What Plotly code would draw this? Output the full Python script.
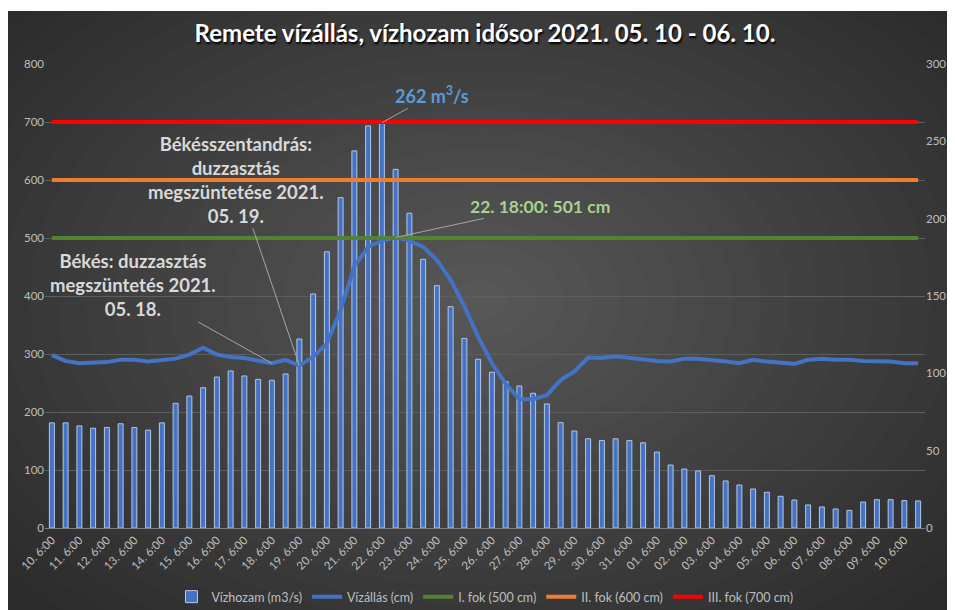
import plotly.graph_objects as go

# ---------------- data ----------------
days = ["10", "11", "12", "13", "14", "15", "16", "17", "18", "19", "20", "21", "22",
        "23", "24", "25", "26", "27", "28", "29", "30", "31",
        "01", "02", "03", "04", "05", "06", "07", "08", "09", "10"]
hours = ["6:00", "18:00"]

# Vízhozam (m3/s) – twice a day, right axis
flow = [68, 68, 66, 64.5, 65, 67.4, 65, 63.3, 68, 80.6,
        85.3, 90.7, 97.6, 101.5, 98.3, 96.1, 95.5, 99.6, 122.2, 151.3,
        178.6, 213.6, 243.8, 260, 262, 231.9, 203.5, 173.7, 156.7, 143.1,
        122.6, 109.1, 100.7, 94.6, 91.8, 87.1, 80.2, 68.1, 62.7, 57.7,
        56.5, 57.7, 56.5, 55.1, 49.1, 40.7, 38.1, 36.9, 33.8, 30.4,
        27.8, 25.2, 23.1, 20.5, 18.1, 14.9, 13.6, 12.3, 11.4, 16.8,
        18.3, 18.3, 17.7, 17.5]

# Vízállás (cm) – left axis
level = [298, 288, 284, 285, 286, 290, 290, 287, 289, 292,
         299, 311, 299, 295, 293, 289, 284, 290, 280, 295,
         318, 376, 451, 485, 495, 501, 495, 485, 462, 428,
         382, 330, 284, 249, 222, 222, 229, 255, 270, 294,
         293, 296, 293, 291, 288, 287, 292, 292, 290, 287,
         284, 290, 287, 285, 283, 290, 292, 290, 290, 288,
         288, 287, 284, 284]

fok1 = 500
fok2 = 600
fok3 = 700

categories = [f"{d}. {h}" for d in days for h in hours]
n = len(categories)
x = list(range(n))
tickvals = x[::2]
ticktext = categories[::2]

# ---------------- figure ----------------
OFF = 8  # page body margin
W, H = 955 - OFF, 610 - OFF
ML, MT = 45 - OFF, 64 - OFF
PR, PB = 925.5 - OFF, 528 - OFF
MR, MB = W - PR, H - PB
PW, PH = PR - ML, PB - MT

def pxx(p):  # page px -> paper x
    return (p - OFF - ML) / PW

def pxy(p):  # page px -> paper y
    return (PB - (p - OFF)) / PH

FONT = "Lato"
TXT = "#bfbfbf"

fig = go.Figure()

fig.add_trace(go.Bar(
    x=x, y=flow, name="Vízhozam (m3/s)", yaxis="y",
    width=0.36,
    marker=dict(color="#4472C4", line=dict(color="#B4C7E7", width=1)),
))
fig.add_trace(go.Scatter(
    x=x, y=level, name="Vízállás (cm)", yaxis="y2", mode="lines",
    line=dict(color="#4472C4", width=4),
))
fig.add_trace(go.Scatter(
    x=x, y=[fok1] * n, name="I. fok (500 cm)", yaxis="y2", mode="lines",
    line=dict(color="#548235", width=4),
))
fig.add_trace(go.Scatter(
    x=x, y=[fok2] * n, name="II. fok (600 cm)", yaxis="y2", mode="lines",
    line=dict(color="#ED7D31", width=4),
))
fig.add_trace(go.Scatter(
    x=x, y=[fok3] * n, name="III. fok (700 cm)", yaxis="y2", mode="lines",
    line=dict(color="#FF0000", width=4),
))

# background (dark radial gradient)
shapes = [dict(type="rect", xref="paper", yref="paper", layer="below",
               x0=pxx(OFF - 2), x1=pxx(960), y0=pxy(11), y1=pxy(615),
               fillcolor="#2b2b2b", line=dict(width=0))]
cx, cy = 480, 300
steps = 22
for k in range(steps):
    f = 1 - k / steps
    rx, ry = 620 * f, 420 * f
    shapes.append(dict(type="circle", xref="paper", yref="paper", layer="below",
                       x0=pxx(cx - rx), x1=pxx(cx + rx),
                       y0=pxy(cy + ry), y1=pxy(cy - ry),
                       fillcolor="rgba(255,255,255,0.0125)", line=dict(width=0)))

ann_font = dict(family=FONT, size=18.5, color="#d9d9d9", weight="bold")
annotations = [
    dict(x=24, y=flow[24], xref="x", yref="y",
         text="262 m<sup>3</sup>/s", showarrow=True, arrowhead=0,
         arrowcolor="#a6a6a6", arrowwidth=1, axref="pixel", ayref="pixel",
         ax=50, ay=-28, font=dict(family=FONT, size=18, color="#5B9BD5", weight="bold")),
    dict(x=25, y=level[25], xref="x", yref="y2",
         text="22. 18:00: 501 cm", showarrow=True, arrowhead=0,
         arrowcolor="#a6a6a6", arrowwidth=1,
         ax=144, ay=-31, font=dict(family=FONT, size=17.5, color="#A9D18E", weight="bold")),
    dict(x=18, y=level[18], xref="x", yref="y2",
         text="Békésszentandrás:<br>duzzasztás<br>megszüntetése 2021.<br>05. 19.",
         showarrow=True, arrowhead=0, arrowcolor="#a6a6a6", arrowwidth=1,
         ax=-63, ay=-186, font=ann_font),
    dict(x=16, y=level[16], xref="x", yref="y2",
         text="Békés: duzzasztás<br>megszüntetés 2021.<br>05. 18.",
         showarrow=True, arrowhead=0, arrowcolor="#a6a6a6", arrowwidth=1,
         ax=-139, ay=-78, font=ann_font),
]

fig.update_layout(
    width=W, height=H, autosize=False,
    margin=dict(l=ML, r=MR, t=MT, b=MB, pad=0, autoexpand=False),
    paper_bgcolor="white", plot_bgcolor="rgba(0,0,0,0)",
    font=dict(family=FONT, size=11, color=TXT),
    title=dict(text="Remete vízállás, vízhozam idősor 2021. 05. 10 - 06. 10.",
               x=(485 - OFF) / W, xanchor="center", y=1 - (34 - OFF) / H, yanchor="middle",
               font=dict(family=FONT, size=24, color="white", weight="bold",
                         shadow="1px 2px 2px #000000")),
    xaxis=dict(range=[-0.5, n - 0.5], tickmode="array", tickvals=tickvals,
               ticktext=ticktext, tickangle=-45, showgrid=False, zeroline=False,
               showline=True, linecolor="#7f7f7f", linewidth=1, ticks="",
               automargin=False, tickfont=dict(size=11.5, color=TXT)),
    yaxis=dict(side="right", range=[0, 300], tickvals=[0, 50, 100, 150, 200, 250, 300],
               showgrid=False, zeroline=False, showline=False, ticks="",
               automargin=False, tickfont=dict(size=11.5, color=TXT)),
    yaxis2=dict(overlaying="y", side="left", range=[0, 800], dtick=100,
                showgrid=True, gridcolor="#5e5e5e", gridwidth=1, zeroline=False,
                showline=False, ticks="", automargin=False,
                tickfont=dict(size=11.5, color=TXT)),
    legend=dict(orientation="h", x=0.5, xanchor="center",
                yref="container", y=1 - (597 - OFF) / H, yanchor="middle",
                bgcolor="rgba(0,0,0,0)", font=dict(size=12.5, color=TXT),
                itemwidth=30, traceorder="normal"),
    shapes=shapes,
    annotations=annotations,
)

fig.write_html("out.html")
